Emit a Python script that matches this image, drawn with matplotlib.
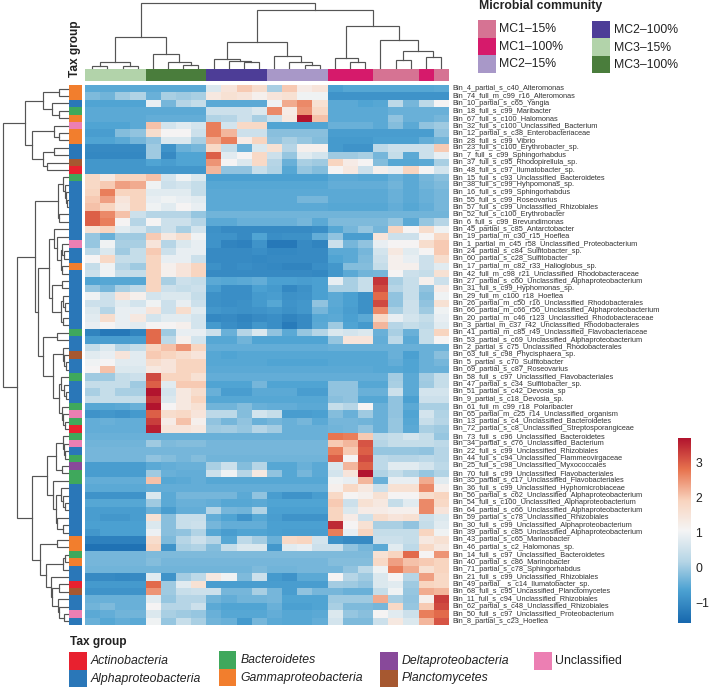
import matplotlib
matplotlib.use("Agg")
import matplotlib.pyplot as plt
import numpy as np
from matplotlib.colors import LinearSegmentedColormap, ListedColormap
from matplotlib.patches import Rectangle

plt.rcParams['font.family'] = ['Liberation Sans', 'DejaVu Sans']

labels = """Bin_4_partial_s_c40_Alteromonas
Bin_74_full_m_c99_r16_Alteromonas
Bin_10_partial_s_c65_Yangia
Bin_18_full_s_c99_Maribacter
Bin_67_full_s_c100_Halomonas
Bin_32_full_s_c100_Unclassified_Bacterium
Bin_12_partial_s_c38_Enterobacteriaceae
Bin_28_full_s_c99_Vibrio
Bin_23_full_s_c100_Erythrobacter_sp.
Bin_7_full_s_c99_Sphingorhabdus
Bin_37_full_s_c95_Rhodopirellula_sp.
Bin_48_full_s_c97_Ilumatobacter_sp.
Bin_15_full_s_c93_Unclassified_Bacteroidetes
Bin_38_full_s_c99_Hyhpomonas_sp.
Bin_16_full_s_c99_Sphingorhabdus
Bin_55_full_s_c99_Roseovarius
Bin_57_full_s_c99_Unclassified_Rhizobiales
Bin_52_full_s_c100_Erythrobacter
Bin_6_full_s_c99_Brevundimonas
Bin_45_partial_s_c85_Antarctobacter
Bin_19_partial_m_c30_r15_Hoeflea
Bin_1_partial_m_c45_r58_Unclassified_Proteobacterium
Bin_24_partial_s_c84_Sulfitobacter_sp.
Bin_60_partial_s_c28_Sulfitobacter
Bin_17_partial_m_c82_r33_Halioglobus_sp.
Bin_42_full_m_c98_r21_Unclassified_Rhodobacteraceae
Bin_27_partial_s_c60_Unclassified_Alphaproteobacterium
Bin_31_full_s_c99_Hyphomonas_sp.
Bin_29_full_m_c100_r18_Hoeflea
Bin_26_partial_m_c50_r16_Unclassified_Rhodobacterales
Bin_66_partial_m_c66_r56_Unclassified_Alphaproteobacterium
Bin_20_partial_m_c46_r123_Unclassified_Rhodobacteraceae
Bin_3_partial_m_c37_r42_Unclassified_Rhodobacterales
Bin_41_partial_m_c85_r49_Unclassified_Flavobacteriaceae
Bin_53_partial_s_c69_Unclassified_Alphaproteobacterium
Bin_2_partial_s_c75_Unclassified_Rhodobacterales
Bin_63_full_s_c98_Phycisphaera_sp.
Bin_5_partial_s_c70_Sulfitobacter
Bin_69_partial_s_c87_Roseovarius
Bin_58_full_s_c97_Unclassified_Flavobacteriales
Bin_47_partial_s_c34_Sulfitobacter_sp.
Bin_51_partial_s_c42_Devosia_sp
Bin_9_partial_s_c18_Devosia_sp.
Bin_61_full_m_c99_r18_Polaribacter
Bin_65_partial_m_c25_r14_Unclassified_organism
Bin_13_partial_s_c4_Unclassified_Bacteroidetes
Bin_72_partial_s_c8_Unclassified_Streptosporangiceae
Bin_73_full_s_c96_Unclassified_Bacteroidetes
Bin_34_partial_s_c76_Unclassified_Bacterium
Bin_22_full_s_c99_Unclassified_Rhizobiales
Bin_44_full_s_c94_Unclassified_Flammeovirgaceae
Bin_25_full_s_c98_Unclassified_Myxococcales
Bin_70_full_s_c99_Unclassified_Flavobacteriales
Bin_35_partial_s_c17_Unclassified_Flavobacteriales
Bin_36_full_s_c99_Unclassified_Hyphomicrobiaceae
Bin_56_partial_s_c62_Unclassified_Alphaproteobacterium
Bin_54_full_s_c100_Unclassified_Alphaproteobacterium
Bin_64_partial_s_c66_Unclassified_Alphaproteobacterium
Bin_59_partial_s_c78_Unclassified_Rhizobiales
Bin_30_full_s_c99_Unclassified_Alphaproteobacterium
Bin_39_partial_s_c85_Unclassified_Alphaproteobacterium
Bin_43_partial_s_c65_Marinobacter
Bin_46_partial_s_c2_Halomonas_sp.
Bin_14_full_s_c97_Unclassified_Bacteroidetes
Bin_40_partial_s_c86_Marinobacter
Bin_71_partial_s_c78_Sphingorhabdus
Bin_21_full_s_c99_Unclassified_Rhizobiales
Bin_49_partial__s_c14_Ilumatobacter_sp.
Bin_68_full_s_c95_Uncassified_Planctomycetes
Bin_11_full_s_c94_Unclassified_Rhizobiales
Bin_62_partial_s_c48_Unclassified_Rhizobiales
Bin_50_full_s_c97_Unclassified_Proteobacterium
Bin_8_partial_s_c23_Hoeflea""".split("\n")

values = [
[-.5,-.5,-.5,-.5, -.5,-.5,-.5,-.5, .7,1.5,2,1.7, .1,2,1.3,1.5, -.65,-.55,-.55,-.55,-.55,-.55,-.55,-.5],
[-.25,-.35,0,.15, -.4,.1,0,.1, 1.4,1.6,1.5,1.2, 1.5,1.6,1,1, -.85,-.85,-.85,-.85,-.85,-.85,-.85,-.85],
[-.6,-.6,-.6,-.6, .9,-.3,.2,.4, -.5,-.5,-.5,-.5, 1,2.3,2.6,1.6, -.5,-.5,-.6,-.55,.3,-.3,.3,1.1],
[-.5,-.5,-.5,-.5, -.5,-.5,-.5,-.5, .5,.5,.5,.7, 2.6,1.3,2.5,1.8, -.5,-.5,-.5,-.5,-.4,-.4,-.4,-.4],
[-.5,-.5,-.5,-.5, -.45,-.45,-.45,-.45, .15,.2,.5,.1, .5,1.4,3.7,2.1, -.5,-.5,-.5,-.5,-.1,-.4,-.4,-.3],
[-.6,-.6,-.6,-.5, 2.1,.6,.8,.6, 2.7,.6,1.8,1.8, -.6,-.6,-.6,-.6, -.4,-.4,-.4,-.5,-.2,-.5,-.1,0],
[-.7,-.7,-.2,-.1, 1.7,1.1,1.1,.5, 2.7,2.2,.5,.5, -.15,-.15,-.15,-.15, -.7,-.7,-.7,-.7,-.7,-.7,-.7,-.1],
[-.6,-.6,-.5,-.3, -.1,.7,.7,.1, 2.3,2.7,1.3,1.9, -.1,.1,-.05,-.2, -.75,-.75,-.75,-.65,-.65,-.65,-.45,-.35],
[-1,-1,-1,-1, 0,-.85,-.4,-.3, 1.8,.4,-.4,.7, 1.6,.2,1.2,1.2, -.75,-.85,-.85,.3,.5,.5,.5,2],
[-1.05,-1.05,-1.05,-1.05, 0,-1,-.6,-.6, 3,.8,1.1,1.8, .5,-.05,.8,.6, 0,0,.1,-.3,.4,-.5,.5,.9],
[-.8,-.8,-.8,-.8, -.6,-.7,-.6,-.6, 2.5,1.1,.7,1.8, .2,-.4,.1,0, 1.9,1.3,1.1,-.2,-.55,-.55,-.5,.1],
[-.8,-.8,-.8,-.8, -.8,-.8,-.8,-.8, 2.2,-.1,-.1,.45, .15,-.55,-.05,-.2, 1.1,1.4,.5,1.2,.9,1.9,1.1,.6],
[1.8,1.4,1.9,1.9, 2.1,.6,1,.7, -.65,-.65,-.65,-.65, -.65,-.65,-.65,-.65, -.5,-.5,-.55,-.55,-.4,-.5,-.3,-.15],
[1.8,2,2.4,2.3, 1,.5,.6,.4, -.55,-.55,-.55,-.55, -.55,-.55,-.55,-.55, -.45,-.45,-.45,-.45,-.35,-.5,-.35,-.25],
[1.9,2.7,1.9,1.9, .8,.8,.8,.4, -.5,-.5,-.5,-.5, -.5,-.5,-.5,-.5, -.5,-.5,-.5,-.5,-.4,-.5,-.4,-.3],
[2,2.4,1.5,1.9, .9,1,.9,.8, -.5,-.5,-.5,-.5, -.5,-.5,-.3,-.3, -.5,-.5,-.5,-.5,-.4,-.5,-.4,-.3],
[2.1,1.9,1.4,1.9, 1,.8,1.1,.9, -.5,-.5,-.5,-.5, -.5,-.5,-.5,-.5, -.55,-.55,-.55,-.55,-.45,-.55,-.45,-.3],
[3,2.6,2.1,.5, .2,.2,.2,-.05, -.35,-.35,-.35,-.35, -.35,-.35,-.35,-.35, -.35,-.35,-.35,-.35,-.35,-.35,-.35,-.35],
[3,2.7,1.1,.2, 1.1,.5,.5,.2, -.5,-.5,-.4,-.4, -.4,-.4,-.3,-.5, -.25,-.25,-.25,-.25,-.05,-.5,-.05,.2],
[1.6,1.9,.8,.6, .2,.5,.1,.6, -.9,-1,-1,-1, -1,-1,-1,-.95, -.55,-.3,-.05,-.3,1.9,1.1,1.7,1],
[-.05,-.4,0,0, 2,1.4,1.7,1, -.85,-.85,-1,-.6, -.95,-.9,-.9,-.45, -.1,-.7,-.7,1.5,.5,.5,1.1,1.8],
[-.05,1,.1,.1, 1.5,.2,.7,.9, -.85,-1.1,-1.15,-.85, -1.3,-1.3,-1,-1.1, .5,-.3,-.1,.9,1.1,1.1,1.7,2],
[.3,.7,0,.4, 2,.5,.9,.9, -1,-1,-1,-.95, -1.05,-1.05,-1,-1, -.5,-.5,-.3,.6,1.4,.8,1.1,2],
[1.1,1.8,.4,.4, 1.9,.9,.9,.5, -1,-1,-1,-1.05, -1,-1,-1,-1, -.6,-.5,-.25,.5,1.2,.9,.5,1.7],
[.4,1,.2,0, 1.9,1.2,1.5,1.9, -.9,-1,-.95,-1, -1.05,-1.1,-1.1,-.95, -.8,-.2,-.2,.4,1.2,1.2,.5,.8],
[.5,1,.4,.4, 1.9,1.2,1.5,1.9, -1,-1,-1,-1, -1,-1,-1,-1.05, -.8,-.5,-.35,-.3,1.1,.5,.4,1.6],
[-.6,-.55,-.55,-.55, 1.9,.1,.5,.4, -.5,-.55,-.5,-.45, -.65,-.65,-.7,-.65, .9,.1,.45,3.4,.1,.45,1.2,.5],
[-.05,-.3,.1,.3, 1.9,.5,.4,.5, -.7,-.95,-.95,-.65, -.75,-1.05,-.9,-.65, .1,.1,.45,3.2,.2,.45,-.1,1.3],
[1,.5,1.5,1.2, .6,.7,.7,.4, -.9,-.95,-.95,-.75, -.7,-.9,-.85,-.65, -.5,-.65,-.9,2.9,-.1,.45,-.2,1],
[.5,.5,.8,.6, 1,.5,.9,.5, -.9,-.95,-.9,-.75, -.55,-.85,-.8,-.1, -.5,-.65,-.9,3.2,-.1,.5,-.1,1.6],
[.7,.2,.9,.9, 1.5,.5,1.7,.8, -.8,-.85,-.9,-.85, -.8,-.9,-.8,-.3, -.55,-.7,-.9,2.6,.1,.5,0,1],
[.8,1.7,.9,1.4, .6,.8,.8,.6, -1.05,-1,-1.1,-1, -.95,-1.1,-1,-.55, -.5,-.65,-.5,1.8,.9,.6,.4,.9],
[.9,1.1,.9,.8, 1.1,1.1,1.2,.6, -.75,-.95,-1.05,-.8, -.95,-1.25,-1,-.5, 0,-.6,-.75,2.2,.2,.4,.3,.8],
[-1.1,-1.3,-1.3,-1.1, 2.9,0,.9,.9, .5,-.4,.2,.7, -.1,-.5,-.05,.2, .7,.6,.7,-.4,.1,-.4,.4,1.9],
[-.7,-.7,-.7,-.7, 2.9,.3,1.2,.6, -.55,-.55,-.35,-.6, -.6,-.6,-.6,-.6, -.05,1.5,1.5,-.45,.3,-.5,.4,1.1],
[.4,.7,.2,.4, 1.9,2.1,2.5,1.9, -.45,-.45,-.45,-.45, -.45,-.45,-.45,-.45, -.4,-.4,-.4,-.4,-.4,-.4,-.4,-.4],
[.8,.9,1.5,.8, 2,1.9,1.7,1.5, -.55,-.6,-.55,-.55, -.55,-.55,-.55,-.55, -.55,-.55,-.55,-.55,-.4,-.65,-.4,-.15],
[1,1.1,.8,.8, 1.7,1.5,1.9,1.9, -.55,-.55,-.55,-.55, -.6,-.6,-.6,-.6, -.55,-.55,-.55,-.55,-.45,-.6,-.4,-.3],
[1.1,2.1,.7,.7, 1.4,1.5,1.9,1.9, -.5,-.5,-.5,-.5, -.5,-.5,-.5,-.5, -.5,-.5,-.5,-.55,-.55,-.6,-.4,-.4],
[0,0,.4,.5, 3.2,1.9,1.9,1.6, -.45,-.45,-.45,-.45, -.45,-.45,-.45,-.45, -.45,-.45,-.45,-.45,.05,-.5,.05,.4],
[.4,.4,.4,0, 3,.8,2,2, -.6,-.6,-.6,-.3, -.6,-.6,-.6,-.6, -.1,-.1,-.55,-.55,.1,-.5,0,.4],
[.1,.4,.1,.1, 3.7,.6,1.4,1.7, -.4,-.7,-.7,-.5, -.5,-.5,-.7,-.7, -.1,-.1,-.4,-.4,.5,-.5,.6,.6],
[.4,.4,.4,.4, 3.4,.7,1.4,1.9, -.55,-.55,-.55,-.55, -.55,-.55,-.55,-.55, -.15,-.1,-.55,-.55,-.1,-.65,.5,.5],
[-.55,-.55,-.5,-.4, 3.7,1.1,1.4,1.6, -.35,-.35,-.2,-.4, -.45,-.45,-.5,-.5, .4,.2,1.1,-.4,-.1,-.5,.1,.1],
[-.85,-.8,-.85,-.75, 3,1.7,1.8,1.5, .3,.3,-.2,.6, .4,-.7,-.7,-.65, -.2,-.4,0,-.4,-.1,-.6,.6,.15],
[-.45,-.4,-.45,-.45, 3.3,1.3,2.1,1.2, -.1,-.3,-.1,-.4, -.3,-.4,-.3,-.5, -.3,-.3,-.35,-.4,-.05,-.55,.45,.2],
[-.45,-.45,-.45,-.45, 3.6,1.5,1.5,1.4, 0,.05,-.05,.2, .05,-.4,-.4,-.4, -.35,-.3,-.1,-.4,-.05,-.5,.1,0],
[-.4,-.4,-.4,-.4, -.4,-.4,-.4,-.4, -.4,-.4,-.4,-.4, -.4,-.4,-.4,-.4, 2.8,2.7,2,.3,.4,.6,.4,-.05],
[-.35,-.35,-.35,-.35, 0,-.25,-.2,-.2, -.3,-.3,-.3,-.3, -.3,-.3,-.3,-.3, 2,2.2,3.1,.2,.4,.4,.4,.3],
[-.3,-.3,-.3,-.3, -.3,-.3,-.3,-.3, -.3,-.3,-.3,-.3, -.3,-.3,-.3,-.3, 2.7,2,3,-.05,-.05,-.05,-.1,.2],
[-.3,-.3,-.3,-.3, -.1,-.2,-.3,-.2, -.35,-.35,-.35,-.35, -.35,-.35,-.35,-.35, 3,1.1,3.2,.3,.2,.2,.3,.2],
[-.7,-.7,-.7,-.7, -.5,-.45,-.4,-.4, .1,.5,-.2,.2, -.55,-.55,-.4,-.5, .7,2.2,3,.3,.8,.8,.6,.3],
[-.7,-.7,-.7,-.7, 0,-.4,-.45,-.45, .5,1,.2,1.4, -.1,-.55,-.3,-.5, .6,1.5,3.7,.15,.4,.15,-.05,.15],
[-.45,-.45,-.45,-.45, 2.1,-.55,-.5,-.45, -.55,-.55,-.55,-.55, -.55,-.55,-.55,-.55, 1,.9,2.2,-.4,.9,.9,2.3,.8],
[-.5,-.5,-.5,-.5, -.45,-.45,-.45,-.45, -.45,-.45,-.45,-.45, -.45,-.45,-.45,-.45, 1.2,1.8,1.4,.5,1.6,1.6,2.6,1.2],
[-.85,-.85,-.85,-.85, .7,-.5,-.3,-.3, -.3,-.3,-.5,-.1, -.7,-.85,-.85,-.7, 1.8,1.1,1.2,1.6,1.1,1.1,1.7,1.9],
[-.55,-.55,-.55,-.55, 0,-.5,-.4,-.4, -.45,-.55,-.55,-.5, -.6,-.6,-.6,-.6, 2,.5,1.6,1.4,.4,.8,2.6,1.8],
[-.7,-.7,-.7,-.7, -.4,-.7,-.45,-.45, .2,-.3,-.35,.15, -.65,-.65,-.65,-.65, 1.9,.7,1.3,1.3,1.2,1.2,2.6,1.5],
[-.7,-.8,-.8,-.7, 1.6,-.15,.45,.45, -.45,-.6,-.85,-.55, -.7,-.85,-.85,-.85, 1.9,1.3,.5,1.7,1.5,1.6,.5,.7],
[-.65,-.65,-.65,-.65, .7,-.15,.45,.5, -.3,-.45,-.45,-.45, -.65,-.65,-.65,-.65, 3.5,1.1,1.6,.1,.1,-.1,.4,.8],
[-.8,-.65,-.65,-.65, .95,-.15,-.1,.15, -.55,-.7,-.6,-.6, -.65,-.7,-.7,-.7, 2.7,.9,1.9,.4,.4,.4,1.9,1],
[-1.15,-1.15,-1.15,-1.15, 1.7,-.25,.2,.5, .2,-.55,.3,.05, -.4,1.8,1.9,.6, -.9,-1,-1,.5,.5,.4,1.4,1.6],
[-1.4,-1.4,-1.4,-1.4, 1.9,-.85,.1,.15, -.2,.4,.7,.7, -.8,.8,.9,.5, .5,-.1,-.3,-.5,.8,.3,1.8,1.4],
[-.3,-.3,-.3,-.3, -.25,-.25,-.25,-.25, -.25,-.25,-.25,-.25, -.25,-.25,-.25,-.25, -.25,-.25,-.25,1.6,1.9,2.9,1.1,2.5],
[-.3,-.3,-.3,-.3, -.2,-.3,-.3,-.3, -.3,-.3,-.3,-.3, -.3,-.3,-.3,-.3, -.2,-.2,-.2,1.8,2.4,2.1,2,1.9],
[-.35,-.35,-.35,-.35, -.35,-.35,-.35,-.35, -.35,-.35,-.35,-.25, -.35,-.35,-.3,-.3, -.3,-.1,.3,1,2.7,2.3,1.6,1.9],
[-1,-1,-1.05,-1, .8,-.85,.05,.3, 1.4,1,-.25,.5, -.75,-.85,-.5,-.5, 1.1,.2,0,.7,1.1,.2,2.4,1.8],
[-.75,-.75,-.75,-.75, 2.9,0,.8,1.6, -.7,-.7,-.7,-.7, -.7,-.7,-.7,-.7, .05,0,-.1,.7,.8,0,1.9,1.8],
[-.85,-.85,-.85,-.85, 2.5,0,.45,.5, .5,-.3,-.3,.1, -.3,-.7,-.1,-.3, -.3,-.4,-.4,.4,1,-.05,2.3,2.2],
[-.4,-.4,-.4,-.4, .8,-.05,.2,.2, -.35,-.45,-.35,-.35, -.3,-.6,-.6,-.6, 0,0,0,2.3,.1,-.1,1.2,3.3],
[-.35,-.25,-.4,-.4, 1.1,.2,.2,.5, -.5,-.6,-.6,-.6, -.4,-.65,-.65,-.6, .1,-.25,-.25,-.3,1.8,-.05,2,3.2],
[-.5,-.45,-.35,-.35, .7,.1,0,-.05, -.4,-.55,-.55,-.55, -.45,-.55,-.55,-.5, .7,-.05,-.15,1.1,.8,.5,2.7,2.9],
[-.4,-.55,-.45,-.5, 1,-.05,.45,.1, -.35,-.4,-.75,-.3, -.5,-.55,-.55,-.45, .6,-.25,-.25,.5,1.4,.7,2.2,3.1],
]
for _r in values:
    assert len(_r) == 24

tax_names = ["Actinobacteria", "Alphaproteobacteria", "Bacteroidetes", "Gammaproteobacteria",
             "Deltaproteobacteria", "Planctomycetes", "Unclassified"]
tax_colors = ["#e8212f", "#2a77b8", "#3fa85c", "#f27e2d", "#88499a", "#a65830", "#ec7fb3"]
# A, B, C, G, D, P, U per row
tax_code = ("GGBCGUGGBBPA" "CBBBBBB" "BBUBBGBBBBBBBB" "CB" "BPBB" "CBBBCUCA"
            "CUBCDCC" "BBBBBBB" "GG" "CG" "BB" "AP" "BBUB")
tax_key = {"A": 0, "B": 1, "C": 2, "G": 3, "D": 4, "P": 5, "U": 6}

col_names = ["MC1\u201315%", "MC1\u2013100%", "MC2\u201315%", "MC2\u2013100%", "MC3\u201315%", "MC3\u2013100%"]
col_colors = ["#d67393", "#d61a6b", "#a898c8", "#4d3d97", "#b2d3aa", "#4a7d3c"]
col_group = [4]*4 + [5]*4 + [3]*4 + [2]*4 + [1]*3 + [0]*3 + [1] + [0]

# dendrograms: (merge height, child, child); an int child is a leaf
col_tree = (65,
    (31.7, (6, (2.7, 0, 1), (2.7, 2, 3)),
           (14, 4, (6, 5, (3.3, 6, 7)))),
    (58.3,
        (26.7, (9.3, 8, (7.7, 9, (6, 10, 11))),
               (12.7, 12, (6.3, 13, (3.3, 14, 15)))),
        (42.3, (10, 16, (6, 17, 18)),
               (28.3, 19, (17.3, (8, 20, 21), (11, 22, 23))))))

row_tree = (65.3,
    (43.3,
        (25.7, (9, 0, 1), (16, 2, (9, 3, 4))),
        (36.7, (14, 5, (9, 6, 7)), (25, (14, 8, 9), (21.7, 10, 11)))),
    (51.7,
        (33.7,
            (10, (5, 12, (3.7, 13, (2.3, 14, (1.3, 15, 16)))), (9, 17, 18)),
            (30.7,
                (19,
                    (14.3, 19, (11, 20, (7.7, (6, 21, (4.3, 22, 23)), (6, 24, 25)))),
                    (16.7, (6.7, 26, 27), (7.7, (5, 28, (3, 29, 30)), (5, 31, 32)))),
                (25,
                    (11, 33, 34),
                    (15.7, (5.5, 35, (4, 36, (2, 37, 38))),
                           (9, (7.3, 39, (4.3, 40, (2.7, 41, 42))),
                               (6, 43, (5, 44, (3, 45, 46)))))))),
        (36.7,
            (21,
                (12.7, (5, 47, (4, 48, (3, 49, 50))), (6, 51, 52)),
                (15.7, 53, (12.3, (7.7, 54, (5.7, 55, (3, 56, 57))), (11, 58, (5.7, 59, 60))))),
            (28.3,
                (11, 61, 62),
                (22.3, (5, (3.7, 63, 64), 65),
                       (17.7, 66, (16.7, (9, 67, 68), (10, 69, (9, 70, (4.3, 71, 72))))))))))

W, H = 709, 688
fig = plt.figure(figsize=(W/100, H/100), dpi=100, facecolor="white")

def axpx(x0, y0, x1, y1):
    ax = fig.add_axes([x0/W, 1-y1/H, (x1-x0)/W, (y1-y0)/H])
    ax.set_axis_off()
    return ax

HX0, HX1, HY0, HY1 = 84.7, 448.6, 85.0, 625.0
data = np.array(values)
nrow, ncol = data.shape

cmap = LinearSegmentedColormap.from_list("rb", [
    (0.0, "#1768ae"), (0.18, "#4ea3d3"), (0.33, "#b5d5e6"), (0.5, "#f5f5f5"),
    (0.66, "#f9d5c0"), (0.83, "#e8744f"), (1.0, "#b2142e")])
vmin, vmax = -1.57, 3.71

ax = axpx(HX0, HY0, HX1, HY1)
ax.imshow(data, cmap=cmap, vmin=vmin, vmax=vmax, aspect="auto", interpolation="nearest")

# row labels
for i, t in enumerate(labels):
    fig.text(452/W, 1-(HY0+(i+.5)*(HY1-HY0)/nrow)/H, t, fontsize=5.3, color="#333333",
             ha="left", va="center")

# column annotation
ax = axpx(HX0, 68.5, HX1, 81.3)
ax.imshow(np.array(col_group)[None, :], cmap=ListedColormap(col_colors), vmin=-.5, vmax=5.5,
          aspect="auto", interpolation="nearest")

# tax annotation
ax = axpx(68.5, HY0, 81.2, HY1)
ax.imshow(np.array([tax_key[c] for c in tax_code])[:, None], cmap=ListedColormap(tax_colors),
          vmin=-.5, vmax=6.5, aspect="auto", interpolation="nearest")

fig.text(75/W, 1-49/H, "Tax group", rotation=90, fontsize=8.6, fontweight="bold", color="#222222",
         ha="center", va="center")

# dendrograms
def draw(ax, node, vertical):
    if isinstance(node, int):
        return node + .5, 0.0
    h, a, b = node
    pa, ha = draw(ax, a, vertical)
    pb, hb = draw(ax, b, vertical)
    xs, ys = [pa, pa, pb, pb], [ha, h, h, hb]
    if vertical:
        ax.plot(xs, ys, color="#555555", lw=0.85, solid_capstyle="projecting", solid_joinstyle="miter", clip_on=False)
    else:
        ax.plot(ys, xs, color="#555555", lw=0.85, solid_capstyle="projecting", solid_joinstyle="miter", clip_on=False)
    return (pa+pb)/2, h

ax = axpx(HX0, 0, HX1, 68.3)
draw(ax, col_tree, True)
ax.set_xlim(0, ncol); ax.set_ylim(0, 68.3)

ax = axpx(0, HY0, 68.3, HY1)
draw(ax, row_tree, False)
ax.set_xlim(68.3, 0); ax.set_ylim(nrow, 0)

# microbial community legend
fig.text(479/W, 1-6.5/H, "Microbial community", fontsize=8.8, fontweight="bold", color="#222222",
         ha="left", va="center")
sw = axpx(0, 0, W, H); sw.set_xlim(0, W); sw.set_ylim(H, 0); sw.patch.set_alpha(0)
for i in range(3):
    sw.add_patch(Rectangle((478, 20+17.6*i), 17.6, 17.6, fc=col_colors[i], ec="none"))
    fig.text(499.3/W, 1-(29+17.6*i)/H, col_names[i], fontsize=8.8, color="#222222", ha="left", va="center")
    sw.add_patch(Rectangle((592, 20.7+17.6*i), 17.6, 17.6, fc=col_colors[i+3], ec="none"))
    fig.text(614/W, 1-(30+17.6*i)/H, col_names[i+3], fontsize=8.8, color="#222222", ha="left", va="center")

# tax legend
fig.text(69.5/W, 1-642/H, "Tax group", fontsize=8.6, fontweight="bold", color="#222222", ha="left", va="center")
legend_spots = [(69, 652.3, 90.7), (69, 669.7, 90.7), (218.7, 651.3, 240.7), (218.7, 668.7, 240.7),
                (380, 652, 401.7), (380, 669.5, 401.7), (534, 652, 555.3)]
for i, (x, y, tx) in enumerate(legend_spots):
    sw.add_patch(Rectangle((x, y), 17.6, 17.6, fc=tax_colors[i], ec="none"))
    fig.text(tx/W, 1-(y+9)/H, tax_names[i], fontsize=8.8, color="#222222", ha="left", va="center",
             style="normal" if i == 6 else "italic")

# colour bar
cax = fig.add_axes([677.7/W, 1-622.7/H, 12.3/W, 184.7/H])
cax.imshow(np.linspace(vmax, vmin, 256)[:, None], cmap=cmap, vmin=vmin, vmax=vmax, aspect="auto",
           extent=[0, 1, vmin, vmax], interpolation="bilinear")
cax.set_xticks([]); cax.yaxis.tick_right()
cax.set_yticks([-1, 0, 1, 2, 3]); cax.set_yticklabels(["\u22121", "0", "1", "2", "3"])
cax.tick_params(axis="y", length=0, pad=4, labelsize=8.8, labelcolor="#222222")
for s in cax.spines.values():
    s.set_visible(False)

fig.savefig("out.png", dpi=100)
